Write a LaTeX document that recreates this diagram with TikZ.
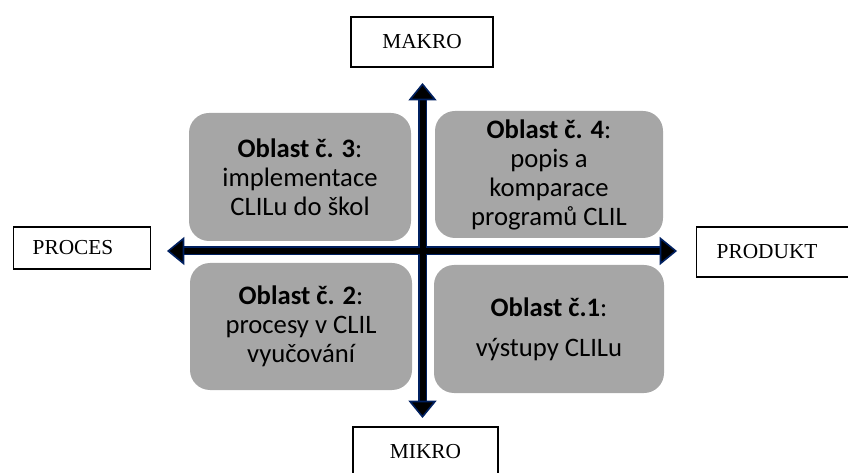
\documentclass[tikz,border=0pt]{standalone}
\usepackage{fontspec}
\setmainfont{Liberation Serif}
\newfontfamily\boxfont{Carlito}
\usetikzlibrary{arrows.meta}
\definecolor{axisblue}{RGB}{0,32,96}
\definecolor{areagray}{RGB}{166,166,166}
\begin{document}
\begin{tikzpicture}[x=0.75pt,y=-0.75pt,
  label box/.style={draw=black, line width=1.1pt, minimum height=50*0.75pt,
    inner sep=0pt, font=\fontsize{16pt}{18pt}\selectfont},
  area/.style={fill=areagray, rounded corners=15pt, inner sep=0pt, align=center,
    font=\boxfont\fontsize{20pt}{21.75pt}\selectfont},
  axis back/.style={draw=axisblue, line width=6.75pt, shorten <=12pt, shorten >=12pt},
  axis/.style={draw=black, line width=4.5pt,
    {Triangle[width=21pt,length=13pt,color=axisblue,fill=black,line width=1.2pt]}-{Triangle[width=21pt,length=13pt,color=axisblue,fill=black,line width=1.2pt]}}]
\useasboundingbox (0,0) rectangle (848,473);
% the four areas
\node[area, minimum width=222*0.75pt, minimum height=128*0.75pt] (oblast3) at (300,177)
  {\textbf{Oblast č. 3}:\\implementace\\CLILu do škol};
\node[area, minimum width=228*0.75pt, minimum height=127*0.75pt] (oblast4) at (549,174.5)
  {\textbf{Oblast č. 4}:\\popis a\\komparace\\programů CLIL};
\node[area, minimum width=222*0.75pt, minimum height=127*0.75pt] (oblast2) at (301,326.5)
  {\textbf{Oblast č. 2}:\\procesy v CLIL\\vyučování};
\node[area, minimum width=230*0.75pt, minimum height=128*0.75pt] (oblast1) at (549,329)
  {\textbf{Oblast č.1}:\\[8pt]výstupy CLILu};
% the labels at the ends of the axes
\node[label box, minimum width=142*0.75pt] (makro) at (422,42) {MAKRO};
\node[label box, minimum width=145*0.75pt] (mikro) at (425.5,452) {MIKRO};
\node[label box, minimum height=42*0.75pt, text width=99*0.75pt, inner xsep=19*0.75pt,
  align=left, anchor=west] (proces) at (13,248) {PROCES};
\node[label box, text width=124*0.75pt, inner xsep=20*0.75pt,
  align=left, anchor=west] (produkt) at (696,252) {PRODUKT};
% the axes
\coordinate (west) at (167,251);
\coordinate (east) at (677,251);
\coordinate (north) at (422.5,83);
\coordinate (south) at (422.5,418);
\draw[axis back] (west) -- (east);
\draw[axis back] (north) -- (south);
\draw[axis] (west) -- (east);
\draw[axis] (north) -- (south);
\end{tikzpicture}
\end{document}
